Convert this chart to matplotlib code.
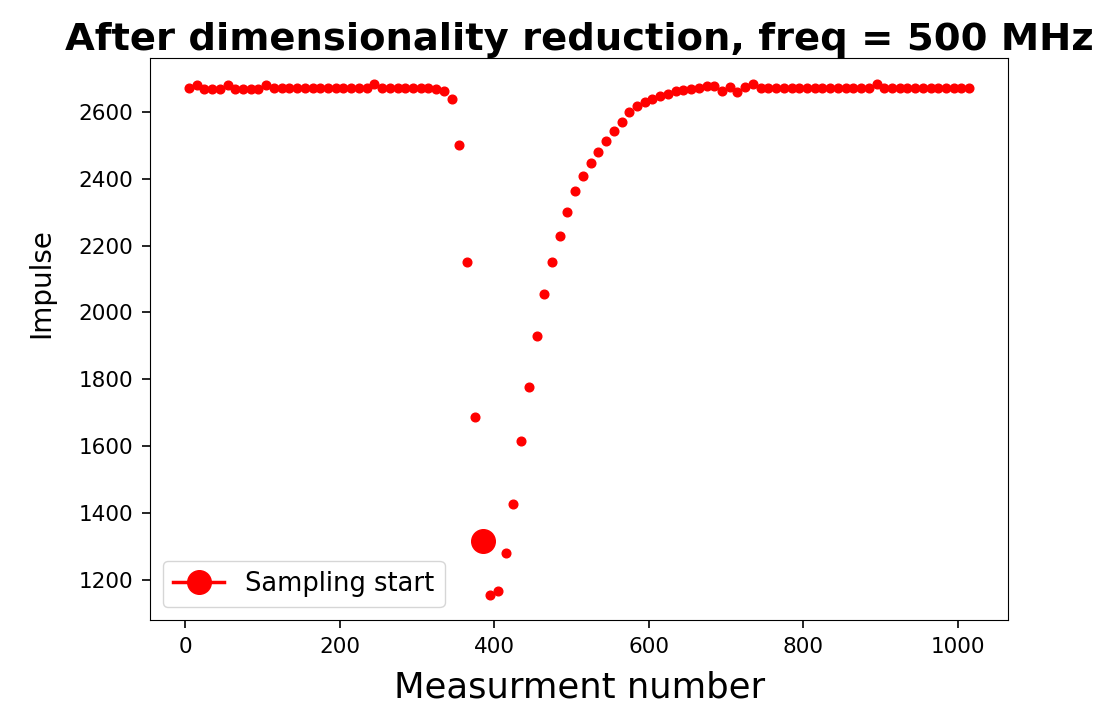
import numpy as np
import matplotlib
matplotlib.use("Agg")
import matplotlib.pyplot as plt

# measurement index (one point every 10 measurements)
measure = np.arange(5, 1025, 10)

impulse = [
    2671, 2682, 2670, 2669, 2670, 2682, 2670, 2669, 2670, 2670,
    2682, 2672, 2672, 2672, 2672, 2672, 2672, 2672, 2672, 2672,
    2672, 2672, 2672, 2672, 2683, 2672, 2672, 2672, 2672, 2672,
    2672, 2672, 2670, 2663, 2640, 2500, 2150, 1686, 1317, 1155,
    1165, 1280, 1425, 1616, 1778, 1930, 2055, 2150, 2230, 2300,
    2362, 2407, 2447, 2480, 2512, 2543, 2571, 2600, 2618, 2630,
    2640, 2648, 2655, 2662, 2667, 2668, 2671, 2678, 2677, 2663,
    2675, 2661, 2675, 2685, 2672, 2672, 2672, 2672, 2672, 2672,
    2672, 2672, 2672, 2672, 2672, 2672, 2672, 2672, 2672, 2683,
    2672, 2672, 2672, 2672, 2672, 2672, 2672, 2672, 2672, 2672,
    2672, 2672,
]

start_idx = 38  # where the sampling starts

fig = plt.figure(figsize=(11.19, 7.08), dpi=100)
ax = fig.add_axes([0.134, 0.124, 0.767, 0.794])

ax.plot(measure, impulse, "r.", markersize=12.5)
ax.plot(measure[start_idx], impulse[start_idx], "r-o", markersize=17,
        linewidth=2.5, label="Sampling start")

ax.set_title("After dimensionality reduction, freq = 500 MHz",
             fontsize=27.7, fontweight="bold")
ax.set_xlabel("Measurment number", fontsize=25.5, labelpad=10)
ax.set_ylabel("Impulse", fontsize=20)
ax.yaxis.set_label_coords(-0.11, 0.6)
ax.tick_params(labelsize=15.5, length=6, width=1.2, pad=6)
ax.legend(loc="lower left", fontsize=18.5)

fig.savefig("out.png", dpi=100)
